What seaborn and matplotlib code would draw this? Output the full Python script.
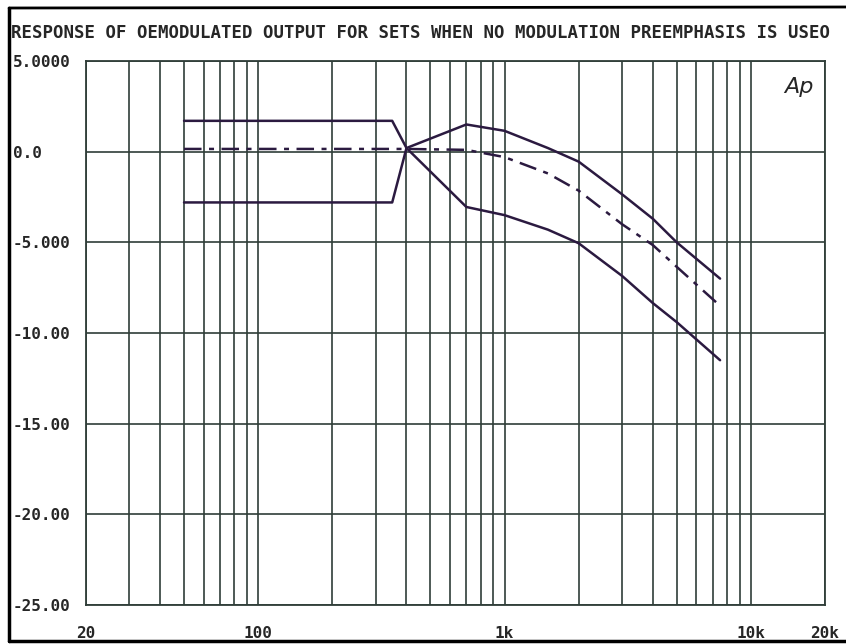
# Response of demodulated output, no modulation preemphasis (plotter style chart)
import numpy as np
import pandas as pd
import matplotlib
matplotlib.use("Agg")
import matplotlib.pyplot as plt
from matplotlib.ticker import LogLocator, NullFormatter, FixedLocator, FixedFormatter
from matplotlib.lines import Line2D
import seaborn as sns

# data (frequency in Hz, level in dB)
freq = [50, 350, 400, 700, 1000, 1500, 2000, 3000, 4000, 5000, 7500]
upper = [1.7, 1.7, 0.2, 1.5, 1.15, 0.2, -0.55, -2.35, -3.7, -5.0, -7.0]
middle = [0.15, 0.15, 0.15, 0.1, -0.3, -1.2, -2.15, -4.0, -5.15, -6.35, -8.5]
lower = [-2.8, -2.8, 0.2, -3.05, -3.5, -4.3, -5.05, -6.85, -8.35, -9.4, -11.5]

x_ticks = [20, 100, 1000, 10000, 20000]
x_labels = ["20", "100", "1k", "10k", "20k"]
y_ticks = [5, 0, -5, -10, -15, -20, -25]
y_labels = ["5.0000", "0.0", "-5.000", "-10.00", "-15.00", "-20.00", "-25.00"]

title = "RESPONSE OF OEMODULATED OUTPUT FOR SETS WHEN NO MODULATION PREEMPHASIS IS USEO"

df = pd.DataFrame({"freq": freq, "upper": upper, "middle": middle, "lower": lower})

sns.set_style("white")
plt.rcParams['font.family'] = ['DejaVu Sans Mono', 'DejaVu Sans']

line_col = "#2b1a40"
grid_col = "#2f3d38"

fig = plt.figure(figsize=(8.46, 6.44), dpi=100)
ax = fig.add_axes([86 / 846, 39 / 644, 739 / 846, 544 / 644])

sns.lineplot(data=df, x="freq", y="upper", ax=ax, color=line_col, lw=1.8)
sns.lineplot(data=df, x="freq", y="lower", ax=ax, color=line_col, lw=1.8)
sns.lineplot(data=df, x="freq", y="middle", ax=ax, color=line_col, lw=1.8,
             linestyle=(0, (7, 3, 2, 3)))

ax.set_xscale("log")
ax.set_xlim(20, 20000)
ax.set_ylim(-25, 5)
ax.set_xlabel("")
ax.set_ylabel("")

# grid on every 1-2-3..9 step of each decade
ax.xaxis.set_major_locator(FixedLocator(x_ticks))
ax.xaxis.set_major_formatter(FixedFormatter(x_labels))
ax.xaxis.set_minor_locator(LogLocator(base=10, subs=np.arange(1, 10)))
ax.xaxis.set_minor_formatter(NullFormatter())
ax.set_yticks(y_ticks)
ax.set_yticklabels(y_labels)
ax.grid(which="both", axis="x", color=grid_col, lw=1.2)
ax.grid(which="major", axis="y", color=grid_col, lw=1.2)
ax.set_axisbelow(True)
for s in ax.spines.values():
    s.set_color(grid_col)
    s.set_linewidth(1.3)

ax.tick_params(axis="x", which="both", length=0, pad=15, labelsize=11.5)
ax.tick_params(axis="y", which="both", length=0, pad=52.5, labelsize=11.5)
for lbl in ax.get_yticklabels():
    lbl.set_horizontalalignment("left")
for lbl in ax.get_xticklabels() + ax.get_yticklabels():
    lbl.set_fontweight("bold")

ax.text(0.985, 0.97, "Ap", transform=ax.transAxes, ha="right", va="top",
        fontsize=16, style="italic", family="DejaVu Sans", fontweight="light")

fig.text(11 / 846, 1 - 33 / 644, title, ha="left", va="center",
         fontsize=12.5, fontweight="bold")

# scanned page frame
fig.add_artist(Line2D([9 / 846, 9 / 846], [3 / 644, 636 / 644], color="black", lw=2.5))
fig.add_artist(Line2D([9 / 846, 1.0], [636 / 644, 637 / 644], color="black", lw=2))
fig.add_artist(Line2D([9 / 846, 1.0], [3 / 644, 3 / 644], color="black", lw=2.5))

fig.savefig("out.png", dpi=100)
